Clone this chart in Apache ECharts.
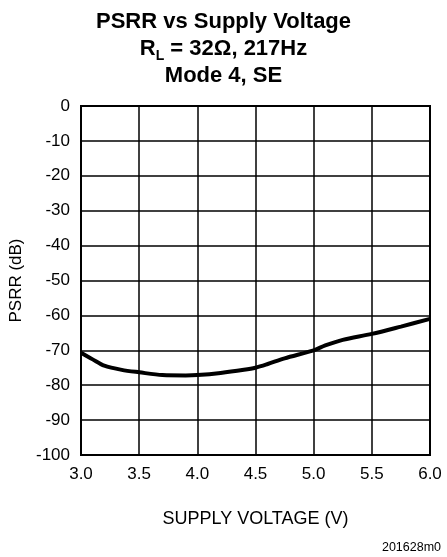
<!DOCTYPE html>
<html>
<head>
<meta charset="utf-8">
<script src="https://cdn.jsdelivr.net/npm/echarts@6/dist/echarts.min.js"></script>
<style>
  html, body { margin: 0; padding: 0; background: #fff; }
  #chart { width: 447px; height: 557px; }
</style>
</head>
<body>
<div id="chart"></div>
<script>
// values
const voltage = [3.0, 3.1, 3.2, 3.35, 3.5, 3.7, 3.9, 4.0, 4.2, 4.4, 4.5, 4.6, 4.75, 5.0, 5.1, 5.25, 5.5, 5.75, 6.0]
const psrr = [-70.7, -72.6, -74.4, -75.6, -76.3, -77.1, -77.2, -77.1, -76.5, -75.6, -75.0, -74.0, -72.3, -70.0, -68.6, -67.0, -65.3, -63.2, -61.0]
const titleLines = ['PSRR vs Supply Voltage', 'Mode 4, SE']
const xTicks = [3.0, 3.5, 4.0, 4.5, 5.0, 5.5, 6.0]

const font = 'Liberation Sans, Arial, sans-serif'
const chart = echarts.init(document.getElementById('chart'))

chart.setOption({
  animation: false,
  backgroundColor: '#fff',
  title: {
    left: 'center',
    top: 3,
    text: titleLines[0] + '\n{b|R}{s|L}{b| = 32Ω, 217Hz}\n' + titleLines[1],
    textStyle: {
      fontFamily: font,
      fontSize: 22,
      fontWeight: 'bold',
      color: '#000',
      lineHeight: 27,
      rich: {
        b: { fontFamily: font, fontSize: 22, fontWeight: 'bold', color: '#000', lineHeight: 27 },
        s: { fontFamily: font, fontSize: 14, fontWeight: 'bold', color: '#000', lineHeight: 27, padding: [15, 0, 0, 0] }
      }
    }
  },
  grid: { left: 81, right: 17, top: 106, bottom: 102 },
  xAxis: {
    type: 'value',
    min: 3,
    max: 6,
    interval: 0.5,
    name: 'SUPPLY VOLTAGE (V)',
    nameLocation: 'middle',
    nameGap: 55,
    nameTextStyle: { fontFamily: font, fontSize: 18, color: '#000' },
    axisLine: { show: true, lineStyle: { color: '#000', width: 2 } },
    axisTick: { show: false },
    axisLabel: {
      margin: 11,
      fontFamily: font,
      fontSize: 17,
      color: '#000',
      formatter: v => xTicks.includes(v) ? v.toFixed(1) : ''
    },
    splitLine: { show: true, lineStyle: { color: '#000', width: 1.5 } }
  },
  yAxis: {
    type: 'value',
    min: -100,
    max: 0,
    interval: 10,
    name: 'PSRR (dB)',
    nameLocation: 'middle',
    nameGap: 52,
    nameTextStyle: { fontFamily: font, fontSize: 17, color: '#000' },
    axisLine: { show: true, lineStyle: { color: '#000', width: 2 } },
    axisTick: { show: false },
    axisLabel: { margin: 11, fontFamily: font, fontSize: 17, color: '#000' },
    splitLine: { show: true, lineStyle: { color: '#000', width: 1.5 } }
  },
  graphic: [
    {
      type: 'rect',
      shape: { x: 81, y: 106, width: 349, height: 349 },
      style: { fill: 'none', stroke: '#000', lineWidth: 2 },
      silent: true
    },
    {
      type: 'text',
      right: 6,
      top: 541,
      style: { text: '201628m0', font: '12.5px ' + font, fill: '#000' }
    }
  ],
  series: [{
    type: 'line',
    data: voltage.map((v, i) => [v, psrr[i]]),
    smooth: 0.3,
    showSymbol: false,
    lineStyle: { color: '#000', width: 4 }
  }]
})
</script>
</body>
</html>
